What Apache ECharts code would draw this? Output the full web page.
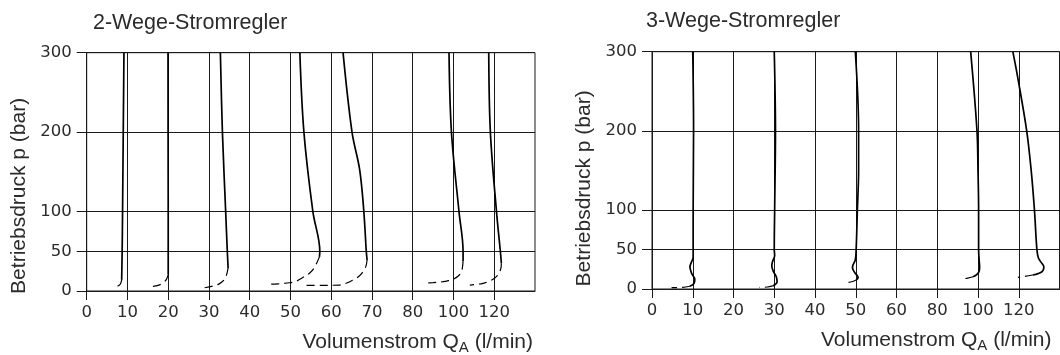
<!DOCTYPE html>
<html><head><meta charset="utf-8">
<script src="https://cdn.jsdelivr.net/npm/echarts@6/dist/echarts.min.js"></script>
<style>html,body{margin:0;padding:0;background:#fff}#c{width:1060px;height:355px}</style>
</head><body><div id="c"></div>
<script>
// ---- texts ----
const leftTitle = '2-Wege-Stromregler';
const rightTitle = '3-Wege-Stromregler';
const yName = 'Betriebsdruck p (bar)';
// ---- tick labels ----
const leftXTicks = [0, 10, 20, 30, 40, 50, 60, 70, 80, 100, 120];
const rightXTicks = [0, 10, 20, 30, 40, 50, 60, 80, 100, 120];
const xEnd = 140;
const yTicks = [0, 50, 100, 200, 300];

// ---- 2-Wege curves: [Q (l/min), p (bar)] ----
const L1solid = [[9.14,300],[8.97,200],[8.8,100],[8.7,50],[8.58,14]];
const L1dash  = [[8.58,14],[8.3,9],[7.9,7],[6.9,4.7]];
const L2solid = [[19.95,300],[19.97,200],[20.0,100],[20.0,50],[20.0,21]];
const L2dash  = [[20.0,21],[19.6,15],[18.8,10.4],[17.5,7],[15.7,5.4]];
const L3solid = [[32.8,300],[33.3,200],[34.1,100],[34.5,50],[34.7,29]];
const L3dash  = [[34.7,29],[34.3,20],[33.7,13.8],[32.5,9],[31.0,6.3],[28.6,3.8]];
const L4solid = [[52.3,300],[53.3,200],[55.5,100],[57.2,50],[57.1,43]];
const L4dash  = [[57.1,43],[56.0,30.6],[54.8,23],[53.1,17.2],[51.5,12.5],[49.8,10.4],[47,9],[44.5,8.4]];
const L5solid = [[62.9,300],[65.1,200],[67.0,152],[68.0,100],[68.6,50],[68.8,39]];
const L5dash  = [[68.8,39],[68.5,31],[67.8,24.3],[66.8,18.5],[65.3,13.8],[63.8,10],[62.1,7.5],[58,7.2],[53.9,7.2]];
const L6solid = [[97.8,300],[99.0,200],[102.7,100],[104.7,50],[104.7,37]];
const L6dash  = [[104.7,37],[104.4,30],[103.9,24.3],[102.2,18.5],[99.8,14.7],[97.5,13],[94.9,11.7],[90,10.5],[85.0,9.7]];
const L7solid = [[117.3,300],[118.1,200],[121.1,100],[123.0,50],[123.5,35]];
const L7dash  = [[123.5,35],[123.3,29],[122.7,24.3],[121.4,19],[119.4,14.7],[117,11.8],[114.5,9.7],[111,8.3],[108,7.5]];

// ---- 3-Wege curves: [Q (l/min), p (bar)] ----
const R1solid = [[10.0,300],[10.2,200],[10.1,100],[10.1,50],[10.1,40],[9.6,33],[9.3,28],[9.7,20],[10.5,12],[10.3,7],[9.3,3.5]];
const R1dash  = [[9.3,3.5],[7.5,2.0],[4.8,1.8]];
const R2solid = [[30.0,300],[30.3,200],[30.1,100],[30.0,50],[30.1,42],[29.6,35],[29.4,29],[29.8,22],[30.5,15.5],[30.7,9],[30.2,5.5],[29.6,4]];
const R2dash  = [[29.6,4],[28.3,2.5],[26.3,2.0]];
const R3solid = [[49.9,300],[50.7,200],[50.7,150],[50.4,100],[50.1,50],[49.9,37],[49.3,30],[49.2,27],[49.6,22],[50.4,16.5],[50.6,14.5],[50.1,11.4]];
const R3dash  = [[50.1,11.4],[49.2,9.5],[47.7,8]];
const R4solid = [[96.4,300],[99.5,200],[100,150],[100.3,100],[100.3,50],[100.6,35],[100.8,28.2],[100.6,23],[100,19.8],[98.8,17],[97.6,15.5]];
const R4dash  = [[97.6,15.5],[95,13.8],[91.8,12.6]];
const R5solid = [[117.1,300],[119.6,266],[123.9,200],[126.1,150],[127.7,100],[128.9,50],[129.7,38.8],[131.5,32],[132.3,28.2],[132.1,24.5],[131.2,21.5],[129.5,19.5],[126.9,17.7]];
const R5dash  = [[126.9,17.7],[123,16],[119.6,14.8]];

const leftCurves = [[L1solid,L1dash],[L2solid,L2dash],[L3solid,L3dash],[L4solid,L4dash],[L5solid,L5dash],[L6solid,L6dash],[L7solid,L7dash]];
const rightCurves = [[R1solid,R1dash],[R2solid,R2dash],[R3solid,R3dash],[R4solid,R4dash],[R5solid,R5dash]];

// The flow axis is drawn with equal spacing between its labelled values
function toAxisPos(q, ticks) {
  const knots = ticks.concat([xEnd]);
  for (let i = 0; i < knots.length - 1; i++) {
    if (q <= knots[i + 1] || i === knots.length - 2) {
      return i + (q - knots[i]) / (knots[i + 1] - knots[i]);
    }
  }
}

const FONT = "'Liberation Sans', Arial, sans-serif";
const NUMFONT = "'DejaVu Sans', sans-serif";
const TXT = '#2b2b2b';
const LINE = '#1a1a1a';

function xAxisFor(gridIndex, ticks, nameGap) {
  const idx = ticks.map((_, i) => i);
  return {
    gridIndex, type: 'value', min: 0, max: ticks.length, interval: 1,
    axisLine: { show: true, onZero: false, lineStyle: { color: LINE, width: 1 } },
    axisTick: { show: true, length: 9, customValues: idx, lineStyle: { color: LINE } },
    axisLabel: { customValues: idx, formatter: v => String(ticks[Math.round(v)]), margin: 13,
      color: TXT, fontSize: 16.5, fontFamily: NUMFONT },
    splitLine: { show: true, lineStyle: { color: LINE, width: 1 } },
    name: '{t|Volumenstrom Q}{s|A}{t| (l/min)}',
    nameLocation: 'end', nameGap: nameGap,
    nameTextStyle: { align: 'right', verticalAlign: 'top', padding: [38, 0, 0, 0], color: TXT,
      fontFamily: FONT, fontSize: 21,
      rich: { t: { fontSize: 21, lineHeight: 26, color: TXT, fontFamily: FONT },
              s: { fontSize: 15, lineHeight: 15, verticalAlign: 'bottom', color: TXT, fontFamily: FONT } } }
  };
}
function yAxisFor(gridIndex, shift) {
  return {
    gridIndex, type: 'value', min: 0, max: 300, interval: 50,
    axisLine: { show: true, onZero: false, lineStyle: { color: LINE, width: 1 } },
    axisTick: { show: true, length: 10, customValues: yTicks, lineStyle: { color: LINE } },
    axisLabel: { customValues: yTicks, margin: 15, color: TXT, fontSize: 16.5, fontFamily: NUMFONT },
    splitLine: { show: true, lineStyle: { color: LINE, width: 1 } },
    name: yName, nameLocation: 'middle', nameGap: 57,
    nameTextStyle: { fontSize: 21, color: TXT, fontFamily: FONT, padding: [0, shift, 0, 0] }
  };
}

const series = [];
function addCurves(curves, ticks, axisIndex) {
  curves.forEach(([solid, dash]) => {
    series.push({ type: 'line', xAxisIndex: axisIndex, yAxisIndex: axisIndex, smooth: 0.35,
      showSymbol: false, silent: true, animation: false,
      data: solid.map(([q, p]) => [toAxisPos(q, ticks), p]),
      lineStyle: { color: '#000', width: 1.7 } });
    series.push({ type: 'line', xAxisIndex: axisIndex, yAxisIndex: axisIndex, smooth: 0.35,
      showSymbol: false, silent: true, animation: false,
      data: dash.map(([q, p]) => [toAxisPos(q, ticks), p]),
      lineStyle: { color: '#000', width: 1.2, type: [8, 5] } });
  });
}
addCurves(leftCurves, leftXTicks, 0);
addCurves(rightCurves, rightXTicks, 1);

const chart = echarts.init(document.getElementById('c'), null, { renderer: 'canvas' });
chart.setOption({
  animation: false,
  backgroundColor: '#fff',
  title: [
    { text: leftTitle, left: 93, top: 12, padding: 0, textStyle: { fontSize: 21.5, fontWeight: 'normal', color: TXT, fontFamily: FONT } },
    { text: rightTitle, left: 646, top: 10, padding: 0, textStyle: { fontSize: 21.5, fontWeight: 'normal', color: TXT, fontFamily: FONT } }
  ],
  grid: [
    { left: 86.7, top: 52.7, width: 448.3, height: 238.3, show: true, borderColor: LINE, borderWidth: 1, backgroundColor: 'transparent' },
    { left: 652, top: 51.7, width: 407.5, height: 237.3, show: true, borderColor: LINE, borderWidth: 1, backgroundColor: 'transparent' }
  ],
  xAxis: [xAxisFor(0, leftXTicks, -2), xAxisFor(1, rightXTicks, -8)],
  yAxis: [yAxisFor(0, 48), yAxisFor(1, 36)],
  series
});
</script></body></html>
